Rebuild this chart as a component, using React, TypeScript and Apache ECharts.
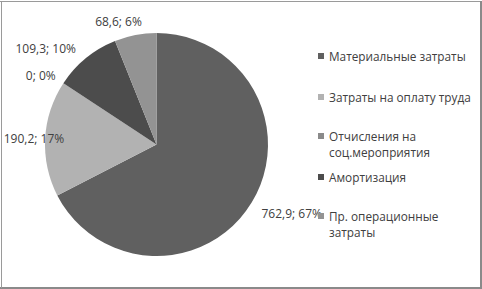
import React, { useEffect, useRef } from "react";
import * as echarts from "echarts";

const categories = [
  "Материальные затраты",
  "Затраты на оплату труда",
  "Отчисления на\nсоц.мероприятия",
  "Амортизация",
  "Пр. операционные\nзатраты",
];
const values = [762.9, 190.2, 0, 109.3, 68.6];
const colors = ["#606060", "#b2b2b2", "#8a8a8a", "#4c4c4c", "#939393"];

const legendCenters = [56, 97, 136, 177, 216];
// label nudges relative to ECharts' default outside placement
const labelNudges: [number, number][] = [
  [-2, 7],
  [32, 0],
  [4, -3],
  [0, -3],
  [13, -6],
];

function fmt(v: number) {
  return v === 0 ? "0" : v.toFixed(1).replace(".", ",");
}

export default function App() {
  const ref = useRef<HTMLDivElement>(null);
  useEffect(() => {
    const chart = echarts.init(ref.current!, null, { renderer: "svg" });
    const font = "'Open Sans', sans-serif";
    const legends = categories.map((name, i) => {
      const lines = name.split("\n").length;
      const content = lines > 1 ? "\n" + name : name;
      const h = content.split("\n").length * 16;
      return {
        data: [name],
        left: 318,
        top: legendCenters[i] - h / 2,
        padding: 0,
        orient: "vertical",
        itemWidth: 6,
        itemHeight: 6,
        icon: "rect",
        selectedMode: false,
        formatter: () => content,
        textStyle: { fontFamily: font, fontSize: 11.8, color: "#404040", lineHeight: 16 },
      };
    });
    chart.setOption({
      animation: false,
      color: colors,
      legend: legends,
      graphic: [
        { type: "line", shape: { x1: 0, y1: 1.5, x2: 481, y2: 1.5 }, style: { stroke: "#9a9a9a", lineWidth: 1 } },
        { type: "line", shape: { x1: 481, y1: 1, x2: 481, y2: 289 }, style: { stroke: "#8a8a8a", lineWidth: 2 } },
        { type: "line", shape: { x1: 0, y1: 288, x2: 482, y2: 288 }, style: { stroke: "#8a8a8a", lineWidth: 2 } },
        { type: "line", shape: { x1: 1.5, y1: 1, x2: 1.5, y2: 288 }, style: { stroke: "#9a9a9a", lineWidth: 1 } },
      ],
      series: [
        {
          type: "pie",
          center: [156.5, 144.5],
          radius: 111.5,
          startAngle: 90,
          clockwise: true,
          avoidLabelOverlap: false,
          data: categories.map((name, i) => ({ name, value: values[i] })),
          label: {
            show: true,
            position: "outside",
            fontFamily: font,
            fontSize: 12,
            color: "#404040",
            formatter: (p: any) => fmt(p.value) + "; " + Math.round(p.percent) + "%",
          },
          labelLine: { show: false, length: 8, length2: 0 },
          labelLayout: (p: any) => {
            const r = p.labelRect;
            const n = labelNudges[p.dataIndex] || [0, 0];
            return { x: r.x + n[0], y: r.y + n[1], align: "left", verticalAlign: "top" };
          },
          itemStyle: { borderWidth: 0 },
          emphasis: { disabled: true },
        },
      ],
    });
    return () => chart.dispose();
  }, []);
  return (
    <div
      ref={ref}
      style={{ position: "fixed", left: 0, top: 0, width: 482, height: 289, background: "#fff" }}
    />
  );
}
